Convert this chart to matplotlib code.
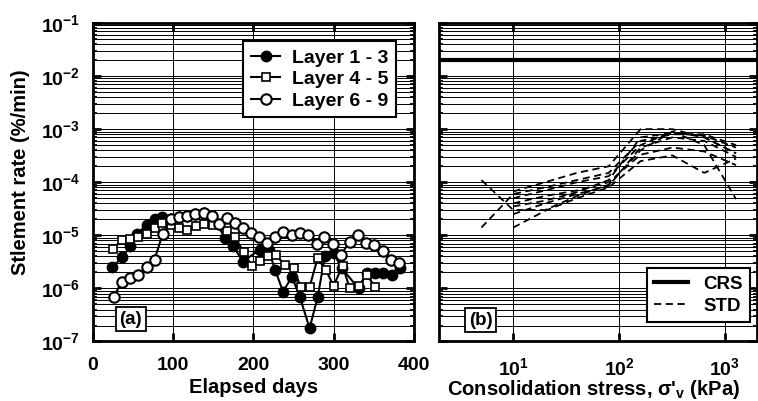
import numpy as np
import matplotlib
matplotlib.use("Agg")
import matplotlib.pyplot as plt
from matplotlib.ticker import FixedLocator, FuncFormatter, NullFormatter, NullLocator

plt.rcParams['font.family'] = ['Liberation Sans', 'DejaVu Sans']
plt.rcParams['font.weight'] = 'bold'
plt.rcParams['mathtext.fontset'] = 'custom'
plt.rcParams['mathtext.rm'] = 'Liberation Sans:bold'
plt.rcParams['mathtext.it'] = 'Liberation Sans:bold'
plt.rcParams['mathtext.bf'] = 'Liberation Sans:bold'

# (a) settlement rate vs elapsed days
days_13 = [24, 37, 47, 55, 67, 77, 86, 97, 107, 117, 127, 138, 148, 165, 175, 187,
           208, 219, 227, 237, 248, 258, 270, 280, 289, 300, 310, 331, 341, 351, 362, 372, 382]
rate_13 = [2.5e-6, 3.9e-6, 6.2e-6, 1.07e-5, 1.55e-5, 2.04e-5, 2.24e-5, 2.04e-5, 2.19e-5,
           2.34e-5, 2.51e-5, 2.63e-5, 2.34e-5, 8.9e-6, 6.2e-6, 3.2e-6, 5.4e-6, 5.4e-6,
           2.24e-6, 8.7e-7, 1.66e-6, 6.8e-7, 1.78e-7, 6.8e-7, 4.0e-6, 4.6e-6, 2.4e-6,
           1.0e-6, 1.95e-6, 1.95e-6, 1.95e-6, 1.78e-6, 2.4e-6]

days_45 = [25, 37, 47, 57, 67, 77, 86, 97, 108, 118, 128, 139, 150, 167, 177, 188, 198,
           208, 218, 228, 239, 250, 259, 270, 280, 290, 300, 311, 320, 331, 341, 352]
rate_45 = [5.5e-6, 8.3e-6, 8.7e-6, 9.1e-6, 1.05e-5, 1.35e-5, 1.7e-5, 1.55e-5, 1.35e-5,
           1.26e-5, 1.51e-5, 1.62e-5, 1.58e-5, 1.23e-5, 9.1e-6, 4.9e-6, 2.6e-6, 3.3e-6,
           4.1e-6, 4.3e-6, 2.75e-6, 2.4e-6, 1.05e-6, 1.07e-6, 3.7e-6, 2.24e-6, 1.12e-6,
           2.7e-6, 1.0e-6, 1.12e-6, 1.78e-6, 1.07e-6]

days_69 = [26, 36, 46, 56, 67, 77, 87, 97, 107, 117, 127, 138, 148, 157, 167, 177, 187,
           197, 207, 217, 227, 237, 248, 258, 268, 279, 288, 299, 309, 320, 330, 340, 350,
           361, 371, 381]
rate_69 = [6.9e-7, 1.32e-6, 1.58e-6, 1.82e-6, 2.5e-6, 3.5e-6, 1.05e-5, 2.04e-5, 2.19e-5,
           2.34e-5, 2.51e-5, 2.63e-5, 2.34e-5, 1.62e-5, 2.1e-5, 1.74e-5, 1.35e-5, 1.12e-5,
           9.5e-6, 7.2e-6, 9.1e-6, 1.17e-5, 1.02e-5, 1.12e-5, 1.02e-5, 6.9e-6, 9.5e-6,
           6.9e-6, 4.3e-6, 7.6e-6, 1.0e-5, 7.1e-6, 6.5e-6, 5.1e-6, 3.5e-6, 2.95e-6]

# (b) settlement rate vs consolidation stress
stress = [5, 10, 20, 40, 80, 160, 320, 640, 1280]
crs_rate = 2.0e-2
nan = np.nan
std_curves = [
    [1.1e-4, 3.0e-5, 3.0e-5, 5.5e-5, 9.0e-5, 4.0e-4, 9.0e-4, 7.0e-4, 3.5e-4],
    [1.4e-5, 6.0e-5, 8.0e-5, 1.1e-4, 1.5e-4, 6.0e-4, 8.0e-4, 8.0e-4, 5.0e-4],
    [nan, 1.4e-5, 2.9e-5, 5.0e-5, 8.0e-5, 2.5e-4, 3.2e-4, 1.5e-4, 2.8e-4],
    [nan, 5.0e-5, 7.0e-5, 1.0e-4, 1.3e-4, 5.0e-4, 9.0e-4, 5.0e-4, 4.8e-5],
    [nan, 6.7e-5, 1.0e-4, 1.5e-4, 2.0e-4, 1.0e-3, 1.0e-3, 7.0e-4, 3.5e-4],
    [nan, 4.0e-5, 5.5e-5, 7.0e-5, 1.0e-4, 3.3e-4, 4.5e-4, 3.8e-4, 2.1e-4],
    [nan, 3.5e-5, 4.5e-5, 6.5e-5, 1.1e-4, 7.0e-4, 8.5e-4, 7.5e-4, 4.5e-4],
    [nan, 2.5e-5, 4.0e-5, 6.0e-5, 8.5e-5, 4.5e-4, 7.0e-4, 6.0e-4, 3.0e-4],
]

# axis ticks
rate_ticks = [1e-7, 1e-6, 1e-5, 1e-4, 1e-3, 1e-2, 1e-1]
day_ticks = [0, 100, 200, 300, 400]
stress_ticks = [10, 100, 1000]

fig = plt.figure(figsize=(7.58, 4.01), dpi=100)
ax1 = fig.add_axes([0.1223, 0.1484, 0.4239, 0.7943])
ax2 = fig.add_axes([0.5796, 0.1484, 0.4185, 0.7943], sharey=ax1)

ax1.plot(days_13, rate_13, '-o', color='k', lw=1.5, ms=7.5, mfc='k', mec='k',
         label='Layer 1 - 3', zorder=3)
ax1.plot(days_45, rate_45, '-s', color='k', lw=1.5, ms=5.5, mfc='white', mec='k',
         mew=1.2, label='Layer 4 - 5', zorder=4)
ax1.plot(days_69, rate_69, '-o', color='k', lw=1.5, ms=7.5, mfc='white', mec='k',
         mew=1.5, label='Layer 6 - 9', zorder=5)

ax2.axhline(crs_rate, color='k', lw=3, label='CRS', zorder=3)
for i, c in enumerate(std_curves):
    ax2.plot(stress, c, '--', color='k', lw=1.3, dashes=(4, 2.5),
             label='STD' if i == 0 else None, zorder=3)

def sci(v, pos):
    return r'$\mathrm{10^{%d}}$' % int(round(np.log10(v)))

minor_rate = [m * 10.0 ** e for e in range(-7, -1) for m in range(2, 10)]

for ax in (ax1, ax2):
    ax.set_yscale('log')
    ax.set_ylim(1e-7, 1e-1)
    ax.yaxis.set_major_locator(FixedLocator(rate_ticks))
    ax.yaxis.set_minor_locator(FixedLocator(minor_rate))
    ax.yaxis.set_minor_formatter(NullFormatter())
    ax.grid(True, which='major', axis='both', color='k', lw=0.7)
    ax.grid(True, which='minor', axis='y', color='k', lw=0.7)
    ax.tick_params(which='both', direction='in', top=True, right=True,
                   labelsize=14, pad=9)
    ax.tick_params(axis='x', pad=11)
    ax.tick_params(which='major', length=6, width=2)
    ax.tick_params(which='minor', length=3, width=1.3)
    for s in ax.spines.values():
        s.set_linewidth(2)
    ax.set_axisbelow(True)

ax1.yaxis.set_major_formatter(FuncFormatter(sci))
ax1.set_xlim(0, 400)
ax1.xaxis.set_major_locator(FixedLocator(day_ticks))

ax2.set_xscale('log')
ax2.set_xlim(2, 2000)
ax2.xaxis.set_major_locator(FixedLocator(stress_ticks))
ax2.xaxis.set_minor_locator(NullLocator())
ax2.xaxis.set_major_formatter(FuncFormatter(sci))
ax2.tick_params(axis='y', labelleft=False)

ax1.set_ylabel('Stlement rate (%/min)', fontsize=14.5, fontweight='bold')
ax1.yaxis.set_label_coords(-0.195, 0.53)
ax1.set_xlabel('Elapsed days', fontsize=14.5, fontweight='bold')
ax1.xaxis.set_label_coords(0.5, -0.115)
ax2.set_xlabel("Consolidation stress, σ'$_\\mathrm{v}$ (kPa)", fontsize=14.5,
               fontweight='bold')
ax2.xaxis.set_label_coords(0.485, -0.115)

leg1 = ax1.legend(loc='upper right', bbox_to_anchor=(0.944, 0.943), borderaxespad=0,
                  fontsize=14, handlelength=1.5, labelspacing=0.2, fancybox=False,
                  framealpha=1, edgecolor='k', borderpad=0.4, handletextpad=0.6)
leg1.get_frame().set_linewidth(1.5)
leg2 = ax2.legend(loc='lower right', bbox_to_anchor=(0.98, 0.061), borderaxespad=0,
                  fontsize=13.5, handlelength=1.8, labelspacing=0.25, fancybox=False,
                  framealpha=1, edgecolor='k', borderpad=0.4, handletextpad=0.8)
leg2.get_frame().set_linewidth(1.5)

box = dict(boxstyle='square,pad=0.2', fc='white', ec='k', lw=1.3)
ax1.text(0.118, 0.07, '(a)', transform=ax1.transAxes, ha='center', va='center',
         fontsize=13.5, fontweight='bold', bbox=box, zorder=6)
ax2.text(0.13, 0.067, '(b)', transform=ax2.transAxes, ha='center', va='center',
         fontsize=13.5, fontweight='bold', bbox=box, zorder=6)

fig.savefig('out.png', dpi=100)
